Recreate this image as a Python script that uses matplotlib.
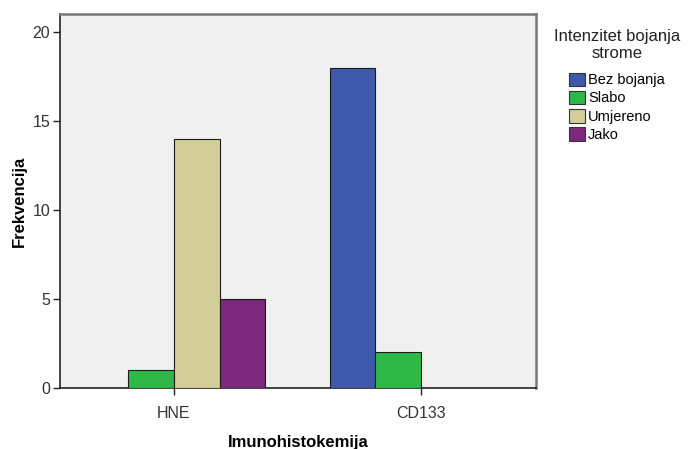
import matplotlib
matplotlib.use("Agg")
import matplotlib.pyplot as plt
import numpy as np
from matplotlib.patches import Patch

categories = ["HNE", "CD133"]
series_names = ["Bez bojanja", "Slabo", "Umjereno", "Jako"]
values = {
    "Bez bojanja": [0, 18],
    "Slabo": [1, 2],
    "Umjereno": [14, 0],
    "Jako": [5, 0],
}
colors = ["#3E58AC", "#2EB848", "#D3CE97", "#7C287D"]
yticks = [0, 5, 10, 15, 20]

plt.rcParams['font.family'] = ['Liberation Sans', 'DejaVu Sans']

fig = plt.figure(figsize=(6.89, 4.49), dpi=100)
W, H = 689, 449
ax = fig.add_axes([60 / W, 1 - 388 / H, (536 - 60) / W, (388 - 14) / H])
ax.set_facecolor("#F0F0F0")

x = np.arange(len(categories))
bw = 0.1845
offsets = (np.arange(4) - 1.5) * bw
for i, name in enumerate(series_names):
    vals = values[name]
    ax.bar(x + offsets[i], vals, width=bw, color=colors[i], edgecolor="#1a1a1a",
           linewidth=0.8, zorder=3)

ax.set_xlim(-0.4615, 1.466)
ax.set_ylim(0, 21.04)
ax.set_xticks(x)
ax.set_xticklabels(categories, fontsize=11.5, color="#333333")
ax.set_yticks(yticks)
ax.set_yticklabels([str(t) for t in yticks], fontsize=11.5, color="#333333")
ax.tick_params(axis="both", direction="out", length=5, width=1, color="#222222")
ax.tick_params(axis="x", pad=8)
ax.tick_params(axis="y", pad=2)

for s in ["left", "bottom"]:
    ax.spines[s].set_color("#222222")
    ax.spines[s].set_linewidth(1.2)
for s in ["top", "right"]:
    ax.spines[s].set_color("#777777")
    ax.spines[s].set_linewidth(1.8)

ax.set_xlabel("Imunohistokemija", fontsize=12, fontweight="bold", labelpad=10)
ax.set_ylabel("Frekvencija", fontsize=12, fontweight="bold", labelpad=4)

handles = [Patch(facecolor=c, edgecolor="#333333", linewidth=0.8) for c in colors]
leg = fig.legend(handles, series_names, title="Intenzitet bojanja\nstrome",
                 loc="upper left", bbox_to_anchor=(554 / W, 1 - 29 / H),
                 frameon=False, fontsize=10.5, title_fontsize=12,
                 handlelength=1.1, handleheight=1.05, handletextpad=0.2,
                 labelspacing=0.24, borderaxespad=0, borderpad=0)
leg._legend_box.align = "center"
leg._legend_box.sep = 8
plt.setp(leg.get_title(), multialignment="center", color="#222222")

fig.savefig("out.png", dpi=100)
